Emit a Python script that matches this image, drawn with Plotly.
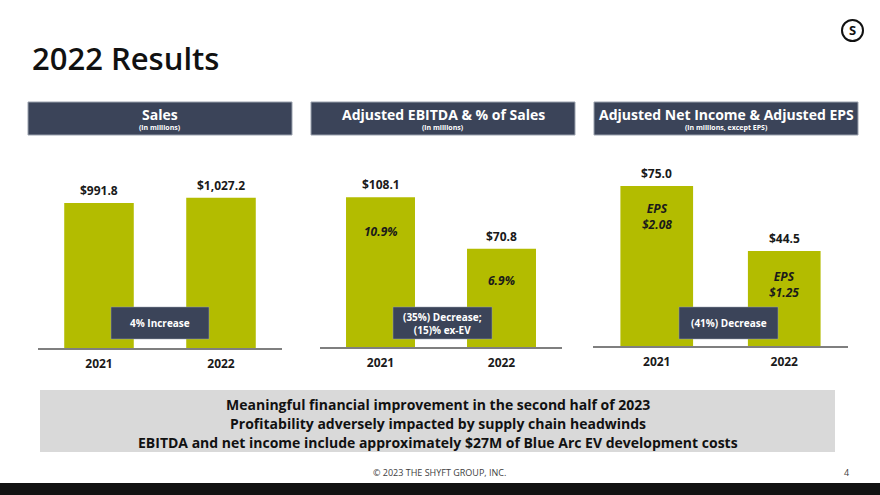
import plotly.graph_objects as go

W, H = 880, 495
years = ["2021", "2022"]
sales = [991.8, 1027.2]
ebitda = [108.1, 70.8]
ebitda_pct = ["10.9%", "6.9%"]
net_income = [75.0, 44.5]
eps = ["$2.08", "$1.25"]

panel_titles = ["Sales", "Adjusted EBITDA & % of Sales", "Adjusted Net Income & Adjusted EPS"]
panel_subtitles = ["(in millions)", "(in millions)", "(in millions, except EPS)"]
change_labels = ["4% Increase", "(35%) Decrease;<br>(15)% ex-EV", "(41%) Decrease"]
bullets = [
    "Meaningful financial improvement in the second half of 2023",
    "Profitability adversely impacted by supply chain headwinds",
    "EBITDA and net income include approximately $27M of Blue Arc EV development costs",
]

BAR = "#B3BC00"
SLATE = "#3B4459"
FONT = "Open Sans"

def px(x):
    return x / W

def py(y):
    return 1 - y / H

def ptext(x, y, text, font, xanchor="center", yanchor="middle"):
    return dict(x=px(x), y=py(y), xref="paper", yref="paper", text=text,
                showarrow=False, xanchor=xanchor, yanchor=yanchor, font=font)

fig = go.Figure()

# panel geometry in pixels: (x0, x1, axis_y, top_y, ymax)
panels = [
    (38, 282, 348, 160, 1286),
    (320, 562, 347, 160, 134.9),
    (593, 848, 346, 160, 87.2),
]
series = [sales, ebitda, net_income]

annotations = []
shapes = []
for i, ((x0, x1, ay, ty, ymax), vals) in enumerate(zip(panels, series)):
    n = "" if i == 0 else str(i + 1)
    fig.add_trace(go.Bar(
        x=years, y=vals, xaxis="x" + n, yaxis="y" + n,
        marker=dict(color=BAR, line=dict(width=0)), width=0.57,
        hoverinfo="skip", showlegend=False,
    ))
    fig.layout["xaxis" + n] = dict(
        domain=[px(x0), px(x1)], anchor="y" + n, type="category",
        range=[-0.5, 1.5], showline=True, linecolor="#7F7F7F", linewidth=1.5,
        showgrid=False, zeroline=False, ticks="", fixedrange=True,
        tickfont=dict(family=FONT, size=12, color="#1A1A1A", weight="bold"),
        ticklabelstandoff=4,
    )
    fig.layout["yaxis" + n] = dict(
        domain=[py(ay), py(ty)], anchor="x" + n, range=[0, ymax],
        showticklabels=False, showgrid=False, zeroline=False, showline=False,
        ticks="", fixedrange=True,
    )
    for j, v in enumerate(vals):
        annotations.append(dict(
            x=j, y=v, xref="x" + n, yref="y" + n, text=f"${v:,.1f}",
            showarrow=False, xanchor="center", yanchor="bottom", yshift=2,
            font=dict(family=FONT, size=12, color="#1A1A1A", weight="bold"),
        ))

# inside labels
for j, (v, t, sh) in enumerate(zip(ebitda, ebitda_pct, [-34, -32])):
    annotations.append(dict(
        x=j, y=v, xref="x2", yref="y2", text=t, showarrow=False,
        xanchor="center", yanchor="middle", yshift=sh,
        font=dict(family=FONT, size=12, color="#1A1A1A", weight="bold", style="italic"),
    ))
for j, (v, t, sh) in enumerate(zip(net_income, eps, [-30, -33])):
    annotations.append(dict(
        x=j, y=v, xref="x3", yref="y3", text="EPS<br>" + t, showarrow=False,
        xanchor="center", yanchor="middle", yshift=sh,
        font=dict(family=FONT, size=12, color="#1A1A1A", weight="bold", style="italic"),
    ))

# header boxes
headers = [(28, 292), (311, 575), (594, 858)]
for (hx0, hx1), t, s in zip(headers, panel_titles, panel_subtitles):
    shapes.append(dict(type="rect", xref="paper", yref="paper",
                       x0=px(hx0), x1=px(hx1), y0=py(135), y1=py(102),
                       fillcolor=SLATE, line=dict(color="#9AA1AE", width=1), layer="below"))
    cx = (hx0 + hx1) / 2
    annotations.append(ptext(cx, 114, t, dict(family=FONT, size=14, color="white", weight="bold")))
    annotations.append(ptext(cx, 127.5, s, dict(family=FONT, size=7, color="white", weight="bold")))

# change boxes
boxes = [(111, 209), (393, 492), (679, 778)]
for (bx0, bx1), t in zip(boxes, change_labels):
    shapes.append(dict(type="rect", xref="paper", yref="paper",
                       x0=px(bx0), x1=px(bx1), y0=py(339), y1=py(307),
                       fillcolor=SLATE, line=dict(color="#9AA1AE", width=0.5)))
    annotations.append(ptext((bx0 + bx1) / 2, 323, t,
                             dict(family=FONT, size=10, color="white", weight="bold")))

# bottom gray box
shapes.append(dict(type="rect", xref="paper", yref="paper", x0=px(40), x1=px(835),
                   y0=py(452), y1=py(390), fillcolor="#D9D9D9", line=dict(width=0), layer="below"))
for t, yy in zip(bullets, [404, 423, 442]):
    annotations.append(ptext(437.5, yy, t, dict(family=FONT, size=14, color="#111111", weight="bold")))

# black footer bar
shapes.append(dict(type="rect", xref="paper", yref="paper", x0=0, x1=1,
                   y0=0, y1=py(483), fillcolor="#121212", line=dict(width=0)))

# title
annotations.append(ptext(30, 58, "2022 Results",
                         dict(family=FONT, size=31, color="#111111", weight=600), xanchor="left"))
# footer texts
annotations.append(ptext(439, 472, "© 2023 THE SHYFT GROUP, INC.",
                         dict(family=FONT, size=9, color="#404040")))
annotations.append(ptext(846, 472, "4", dict(family=FONT, size=9, color="#404040")))

# logo
shapes.append(dict(type="circle", xref="paper", yref="paper",
                   x0=px(842), x1=px(863), y0=py(41), y1=py(20),
                   line=dict(color="#111111", width=2), fillcolor="white"))
annotations.append(ptext(852.5, 30.5, "S", dict(family=FONT, size=13, color="#111111", weight="bold")))

fig.update_layout(
    width=W, height=H, margin=dict(l=0, r=0, t=0, b=0),
    paper_bgcolor="white", plot_bgcolor="rgba(0,0,0,0)",
    annotations=annotations, shapes=shapes, showlegend=False,
)

fig.write_html("out.html", config={"displayModeBar": False},
               post_script="document.body.style.margin='0';document.body.style.overflow='hidden';")
